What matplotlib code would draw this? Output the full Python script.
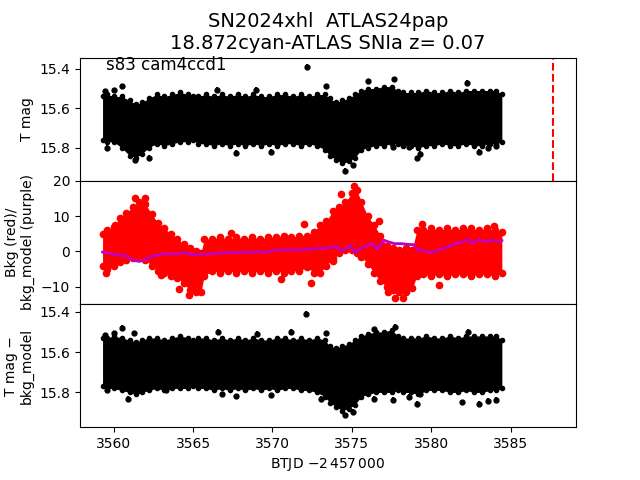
import matplotlib
matplotlib.use("Agg")
import matplotlib.pyplot as plt
import numpy as np

# light curve band: time knots with bright/faint edges
t_knot = [3559.3, 3559.6, 3560.0, 3560.5, 3561.0, 3561.4, 3561.8, 3562.2, 3562.7, 3563.2,
          3563.7, 3564.2, 3564.7, 3565.0, 3565.3, 3565.8, 3566.3, 3566.8, 3567.3, 3567.8,
          3568.3, 3568.8, 3569.3, 3569.8, 3570.3, 3570.8, 3571.3, 3571.8, 3572.3, 3572.8,
          3573.3, 3573.6, 3574.0, 3574.4, 3574.8, 3575.2, 3575.6, 3576.0, 3576.5, 3577.0,
          3577.5, 3577.9, 3578.2, 3578.7, 3579.2, 3579.7, 3580.2, 3580.7, 3581.2, 3581.7,
          3582.2, 3582.7, 3583.2, 3583.7, 3584.1, 3584.45]
tmag_hi = [15.54, 15.53, 15.54, 15.54, 15.56, 15.58, 15.57, 15.55, 15.53, 15.54,
           15.53, 15.52, 15.53, 15.54, 15.54, 15.53, 15.54, 15.53, 15.54, 15.53,
           15.54, 15.53, 15.54, 15.54, 15.53, 15.53, 15.54, 15.53, 15.54, 15.53,
           15.53, 15.55, 15.57, 15.56, 15.55, 15.53, 15.51, 15.50, 15.50, 15.49,
           15.49, 15.51, 15.52, 15.52, 15.52, 15.51, 15.52, 15.52, 15.51, 15.52,
           15.51, 15.51, 15.51, 15.51, 15.51, 15.53]
tmag_lo = [15.76, 15.77, 15.77, 15.80, 15.84, 15.85, 15.83, 15.80, 15.78, 15.79,
           15.78, 15.77, 15.77, 15.76, 15.78, 15.78, 15.79, 15.78, 15.79, 15.78,
           15.79, 15.78, 15.79, 15.78, 15.79, 15.78, 15.78, 15.79, 15.78, 15.79,
           15.81, 15.84, 15.86, 15.88, 15.87, 15.85, 15.81, 15.80, 15.79, 15.79,
           15.78, 15.78, 15.79, 15.79, 15.80, 15.79, 15.79, 15.78, 15.79, 15.79,
           15.78, 15.79, 15.79, 15.78, 15.78, 15.77]
tmag_out_t = [3572.17, 3559.45, 3560.0, 3560.5, 3566.53, 3568.98, 3573.38, 3576.0,
              3577.67, 3582.28, 3559.56, 3561.34, 3562.2, 3567.68, 3569.88, 3574.57,
              3575.06, 3577.6, 3578.61, 3579.1, 3579.3, 3583.0, 3583.6, 3584.1]
tmag_out_m = [15.389, 15.514, 15.509, 15.489, 15.505, 15.505, 15.489, 15.463,
              15.451, 15.47, 15.80, 15.862, 15.85, 15.825, 15.82, 15.916,
              15.89, 15.797, 15.797, 15.853, 15.83, 15.82, 15.80, 15.79]

# T mag - bkg_model
corr_hi = [15.53, 15.53, 15.52, 15.53, 15.54, 15.55, 15.54, 15.53, 15.53, 15.54,
           15.53, 15.52, 15.53, 15.54, 15.53, 15.53, 15.54, 15.53, 15.54, 15.53,
           15.54, 15.53, 15.54, 15.54, 15.53, 15.53, 15.54, 15.53, 15.54, 15.53,
           15.54, 15.57, 15.58, 15.57, 15.56, 15.54, 15.52, 15.51, 15.50, 15.50,
           15.49, 15.52, 15.53, 15.53, 15.53, 15.52, 15.53, 15.53, 15.52, 15.53,
           15.52, 15.52, 15.52, 15.52, 15.52, 15.54]
corr_lo = [15.77, 15.78, 15.78, 15.79, 15.80, 15.81, 15.80, 15.79, 15.78, 15.79,
           15.78, 15.78, 15.78, 15.77, 15.78, 15.78, 15.79, 15.78, 15.79, 15.78,
           15.79, 15.78, 15.79, 15.78, 15.79, 15.78, 15.78, 15.79, 15.79, 15.80,
           15.82, 15.85, 15.87, 15.89, 15.88, 15.86, 15.82, 15.81, 15.80, 15.80,
           15.80, 15.79, 15.80, 15.80, 15.81, 15.79, 15.79, 15.79, 15.80, 15.80,
           15.79, 15.80, 15.80, 15.79, 15.79, 15.78]
corr_out_t = [3572.14, 3559.45, 3560.0, 3560.5, 3561.3, 3566.55, 3569.0, 3571.2,
              3573.4, 3576.4, 3577.7, 3582.3, 3559.56, 3560.9, 3563.3, 3565.3,
              3566.8, 3567.68, 3569.9, 3573.07, 3574.57, 3575.06, 3576.4, 3577.6,
              3578.6, 3579.1, 3579.3, 3581.97, 3583.0, 3583.6, 3584.1]
corr_out_m = [15.41, 15.516, 15.507, 15.48, 15.507, 15.50, 15.51, 15.50,
              15.507, 15.487, 15.474, 15.50, 15.79, 15.83, 15.79, 15.77,
              15.81, 15.818, 15.815, 15.83, 15.913, 15.896, 15.83, 15.835,
              15.82, 15.855, 15.81, 15.847, 15.855, 15.84, 15.835]

# background (red) cloud edges and background model (purple)
bkg_t = [3559.3, 3559.6, 3560.0, 3560.4, 3560.8, 3561.2, 3561.6, 3562.0, 3562.4, 3562.8,
         3563.2, 3563.6, 3564.0, 3564.4, 3564.8, 3565.2, 3565.5, 3565.7, 3566.2, 3566.7,
         3567.2, 3567.7, 3568.2, 3568.7, 3569.2, 3569.7, 3570.2, 3570.7, 3571.2, 3571.7,
         3572.2, 3572.6, 3573.0, 3573.4, 3573.8, 3574.2, 3574.6, 3575.0, 3575.3, 3575.6,
         3576.0, 3576.4, 3576.8, 3577.2, 3577.6, 3578.0, 3578.4, 3578.8, 3579.1, 3579.5,
         3580.0, 3580.5, 3581.0, 3581.5, 3582.0, 3582.5, 3583.0, 3583.5, 3584.0, 3584.45]
bkg_hi = [5.0, 6.0, 7.0, 9.5, 11.0, 12.5, 14.0, 13.5, 10.5, 8.0,
          6.5, 5.0, 3.5, 2.0, 1.0, 0.0, -0.5, 3.5, 3.5, 4.0,
          3.5, 4.0, 3.5, 4.0, 3.5, 4.0, 4.0, 4.5, 4.0, 4.5,
          4.5, 5.5, 7.5, 8.5, 11.5, 12.5, 14.0, 16.5, 17.5, 14.0,
          10.0, 7.5, 4.5, 1.5, 1.0, 0.5, 1.0, 0.5, 6.0, 6.0,
          6.5, 6.0, 6.5, 6.0, 6.5, 6.5, 6.0, 6.5, 6.0, 5.5]
bkg_lo = [-4.0, -5.0, -4.0, -3.0, -2.5, -2.0, -2.0, -2.5, -4.0, -5.5,
          -6.0, -7.0, -7.5, -9.0, -11.0, -11.5, -11.5, -7.0, -5.5, -6.0,
          -5.5, -6.0, -5.5, -6.0, -5.5, -6.0, -5.5, -6.0, -5.5, -5.5,
          -4.5, -6.0, -6.0, -4.0, -2.0, -0.5, 0.5, 0.5, -0.5, -1.5,
          -3.5, -6.0, -8.5, -10.0, -11.0, -11.5, -11.5, -10.5, -7.0, -6.5,
          -7.0, -6.5, -7.0, -6.5, -6.5, -7.0, -6.5, -6.5, -7.0, -6.0]
bkg_out_t = [3559.5, 3560.1, 3561.35, 3562.0, 3561.65, 3563.0, 3564.1, 3564.75, 3567.4,
             3570.55, 3572.0, 3572.45, 3573.8, 3574.35, 3575.15, 3576.7, 3577.25, 3577.7,
             3578.2, 3579.4, 3580.5, 3583.95]
bkg_out_v = [-6.2, 7.6, 15.1, 15.1, -1.4, -6.6, -10.6, -12.3, 5.2,
             -7.8, 7.8, -9.0, -2.8, 16.3, 18.5, 8.5, -11.4, -13.1,
             -13.3, 7.8, -9.5, 7.1]
model_t = [3559.3, 3559.8, 3560.3, 3560.8, 3561.2, 3561.6, 3562.0, 3562.4, 3562.9, 3563.4,
           3563.9, 3564.4, 3564.9, 3565.4, 3565.9, 3566.4, 3567.0, 3567.5, 3568.0, 3568.5,
           3569.0, 3569.5, 3570.0, 3570.5, 3571.0, 3571.5, 3572.0, 3572.5, 3573.0, 3573.5,
           3574.0, 3574.3, 3574.6, 3574.9, 3575.2, 3575.5, 3575.9, 3576.3, 3576.6, 3577.0,
           3577.3, 3577.7, 3578.1, 3578.5, 3578.9, 3579.2, 3579.6, 3580.0, 3580.4, 3580.8,
           3581.2, 3581.6, 3582.0, 3582.3, 3582.6, 3583.0, 3583.4, 3583.8, 3584.2, 3584.45]
model_v = [-0.2, -0.6, -1.0, -1.3, -2.5, -2.8, -2.4, -1.3, -1.0, -0.6,
           -0.7, -0.4, -0.9, -1.0, -0.6, -0.7, -0.3, -0.5, -0.2, -0.4,
           0.0, -0.3, 0.2, 0.3, 0.5, 0.3, 0.7, 0.6, 1.0, 0.9,
           1.6, 0.2, 0.5, 1.8, -0.4, 0.8, 1.5, 2.3, 0.6, 3.2,
           2.7, 2.2, 2.2, 2.0, 1.9, 0.4, 0.1, -0.4, 0.4, 0.9,
           1.5, 2.4, 2.6, 3.5, 2.3, 3.4, 2.7, 3.2, 2.9, 3.1]

t_event = 3587.7
mag_err = 0.012

fig, axes = plt.subplots(3, 1, sharex=True, figsize=(6.4, 4.8))
plt.subplots_adjust(hspace=0)
ax1, ax2, ax3 = axes


def band(ax, hi, lo, out_t, out_m):
    ax.fill_between(t_knot, hi, lo, color='k', lw=0)
    ax.errorbar(t_knot, hi, yerr=0.008, fmt='o', color='k', ms=3, elinewidth=1.5)
    ax.errorbar(t_knot, lo, yerr=0.008, fmt='o', color='k', ms=3, elinewidth=1.5)
    ax.errorbar(out_t, out_m, yerr=mag_err, fmt='o', color='k', ms=3.5, elinewidth=1.5)


band(ax1, tmag_hi, tmag_lo, tmag_out_t, tmag_out_m)
ax1.axvline(t_event, color='r', ls='--', lw=1.5)
ax1.set_ylim(15.968, 15.343)
ax1.set_yticks([15.4, 15.6, 15.8])
ax1.set_ylabel('T mag')
ax1.text(3559.5, 15.405, 's83 cam4ccd1', fontsize=12)
ax1.set_title('SN2024xhl  ATLAS24pap\n18.872cyan-ATLAS SNIa z= 0.07', fontsize=14)

ax2.fill_between(bkg_t, bkg_hi, bkg_lo, color='r', lw=0)
ax2.plot(bkg_t, bkg_hi, 'o', color='r', ms=4.5)
ax2.plot(bkg_t, bkg_lo, 'o', color='r', ms=4.5)
ax2.plot(bkg_out_t, bkg_out_v, 'o', color='r', ms=4.5)
ax2.plot(model_t, model_v, '-', color='m', lw=2)
ax2.set_ylim(-14.9, 20.0)
ax2.set_yticks([-10, 0, 10, 20])
ax2.set_ylabel('Bkg (red)/\nbkg_model (purple)')

band(ax3, corr_hi, corr_lo, corr_out_t, corr_out_m)
ax3.set_ylim(15.972, 15.362)
ax3.set_yticks([15.4, 15.6, 15.8])
ax3.set_ylabel('T mag \u2212\nbkg_model')
ax3.set_xticks([3560, 3565, 3570, 3575, 3580, 3585])
ax3.set_xlabel(r'BTJD $-2\,457\,000$')

plt.savefig('out.png', dpi=100)
